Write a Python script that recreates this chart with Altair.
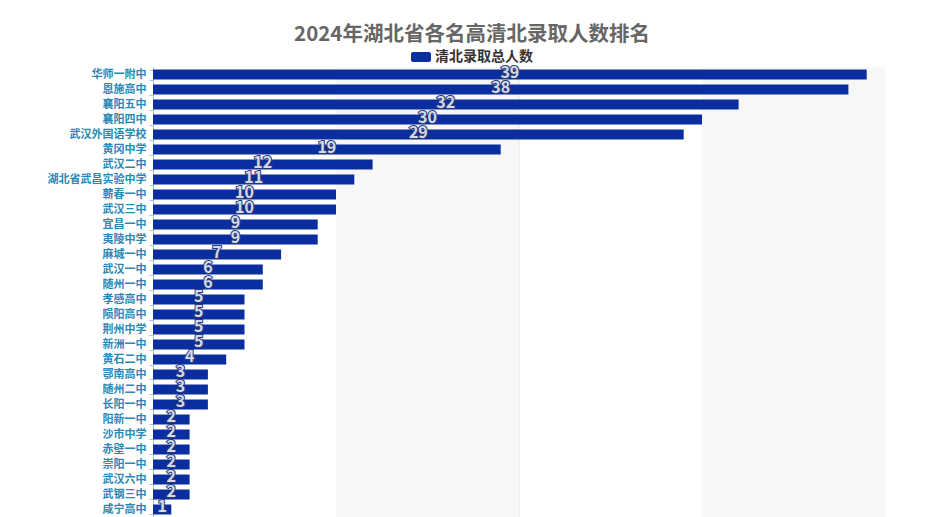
import altair as alt
import pandas as pd

schools = ["华师一附中", "恩施高中", "襄阳五中", "襄阳四中", "武汉外国语学校", "黄冈中学",
           "武汉二中", "湖北省武昌实验中学", "蕲春一中", "武汉三中", "宜昌一中", "夷陵中学",
           "麻城一中", "武汉一中", "随州一中", "孝感高中", "陨阳高中", "荆州中学", "新洲一中",
           "黄石二中", "鄂南高中", "随州二中", "长阳一中", "阳新一中", "沙市中学", "赤壁一中",
           "崇阳一中", "武汉六中", "武钢三中", "咸宁高中"]
counts = [39, 38, 32, 30, 29, 19, 12, 11, 10, 10, 9, 9, 7, 6, 6, 5, 5, 5, 5, 4, 3, 3, 3,
          2, 2, 2, 2, 2, 2, 1]
series_name = "清北录取总人数"
title_text = "2024年湖北省各名高清北录取人数排名"
x_ticks = [0, 10, 20, 30, 40]
split_start = [10, 30]
split_end = [20, 40]

FONT = "Noto Sans CJK SC"
BAR = "#0a2ea0"
W = 732
STEP = 15.0
H = round(STEP * len(schools))

df = pd.DataFrame({"school": schools, "count": counts, "series": series_name})
df["half"] = df["count"] / 2
split_df = pd.DataFrame({"s": split_start, "e": split_end})

xscale = alt.Scale(domain=[0, 40], nice=False)
yscale = alt.Scale(paddingInner=0.333, paddingOuter=0.167)

split = alt.Chart(split_df).mark_rect(color="#f7f7f7").encode(
    x=alt.X("s:Q", scale=xscale),
    x2="e:Q",
    y=alt.value(0),
    y2=alt.value(H),
)

legend_symbol = ("M-0.8,-0.5H0.8A0.2,0.2 0 0 1 1,-0.3V0.3A0.2,0.2 0 0 1 0.8,0.5"
                 "H-0.8A0.2,0.2 0 0 1 -1,0.3V-0.3A0.2,0.2 0 0 1 -0.8,-0.5Z")

bars = alt.Chart(df).mark_bar().encode(
    x=alt.X("count:Q", scale=xscale,
            axis=alt.Axis(values=x_ticks, title=None, grid=True, gridColor="#ececec",
                          domain=False, ticks=False, labelColor="#666", labelFont=FONT)),
    y=alt.Y("school:N", sort=schools, scale=yscale,
            axis=alt.Axis(title=None, labelFont=FONT, labelFontSize=11, labelFontWeight="bold",
                          labelColor="#2a88b6", domainColor="#a9c0d6", tickColor="#a9c0d6",
                          tickSize=4, labelPadding=3, tickBand="extent")),
    color=alt.Color("series:N", scale=alt.Scale(range=[BAR]),
                    legend=alt.Legend(title=None, orient="none", legendX=258, legendY=-20,
                                      direction="horizontal", symbolType=legend_symbol,
                                      symbolSize=400, symbolStrokeWidth=0,
                                      labelFont=FONT, labelFontSize=14, labelFontWeight="bold",
                                      labelColor="#333", labelOffset=4, padding=0)),
)

label_base = alt.Chart(df).encode(
    x=alt.X("half:Q", scale=xscale),
    y=alt.Y("school:N", sort=schools, scale=yscale),
    text="count:Q",
)
label_stroke = label_base.mark_text(font=FONT, fontSize=16, fontWeight="bold", dy=-2,
                                    fill="#2a3a78", stroke="#2a3a78", strokeWidth=2,
                                    baseline="middle", align="center")
label_fill = label_base.mark_text(font=FONT, fontSize=16, fontWeight="bold", dy=-2,
                                  fill="#d3d9e8", baseline="middle", align="center")

chart = alt.layer(split, bars, label_stroke, label_fill).properties(
    width=W,
    height=H,
    title=alt.TitleParams(text=title_text, font=FONT, fontSize=20.5, fontWeight="bold",
                          color="#666666", anchor="middle", dx=-47, offset=2),
    autosize=alt.AutoSizeParams(type="none"),
    padding={"left": 145, "top": 59, "right": 0, "bottom": 40},
).configure_view(stroke=None)

chart.save("out.html", embed_options={"renderer": "svg", "actions": False})
